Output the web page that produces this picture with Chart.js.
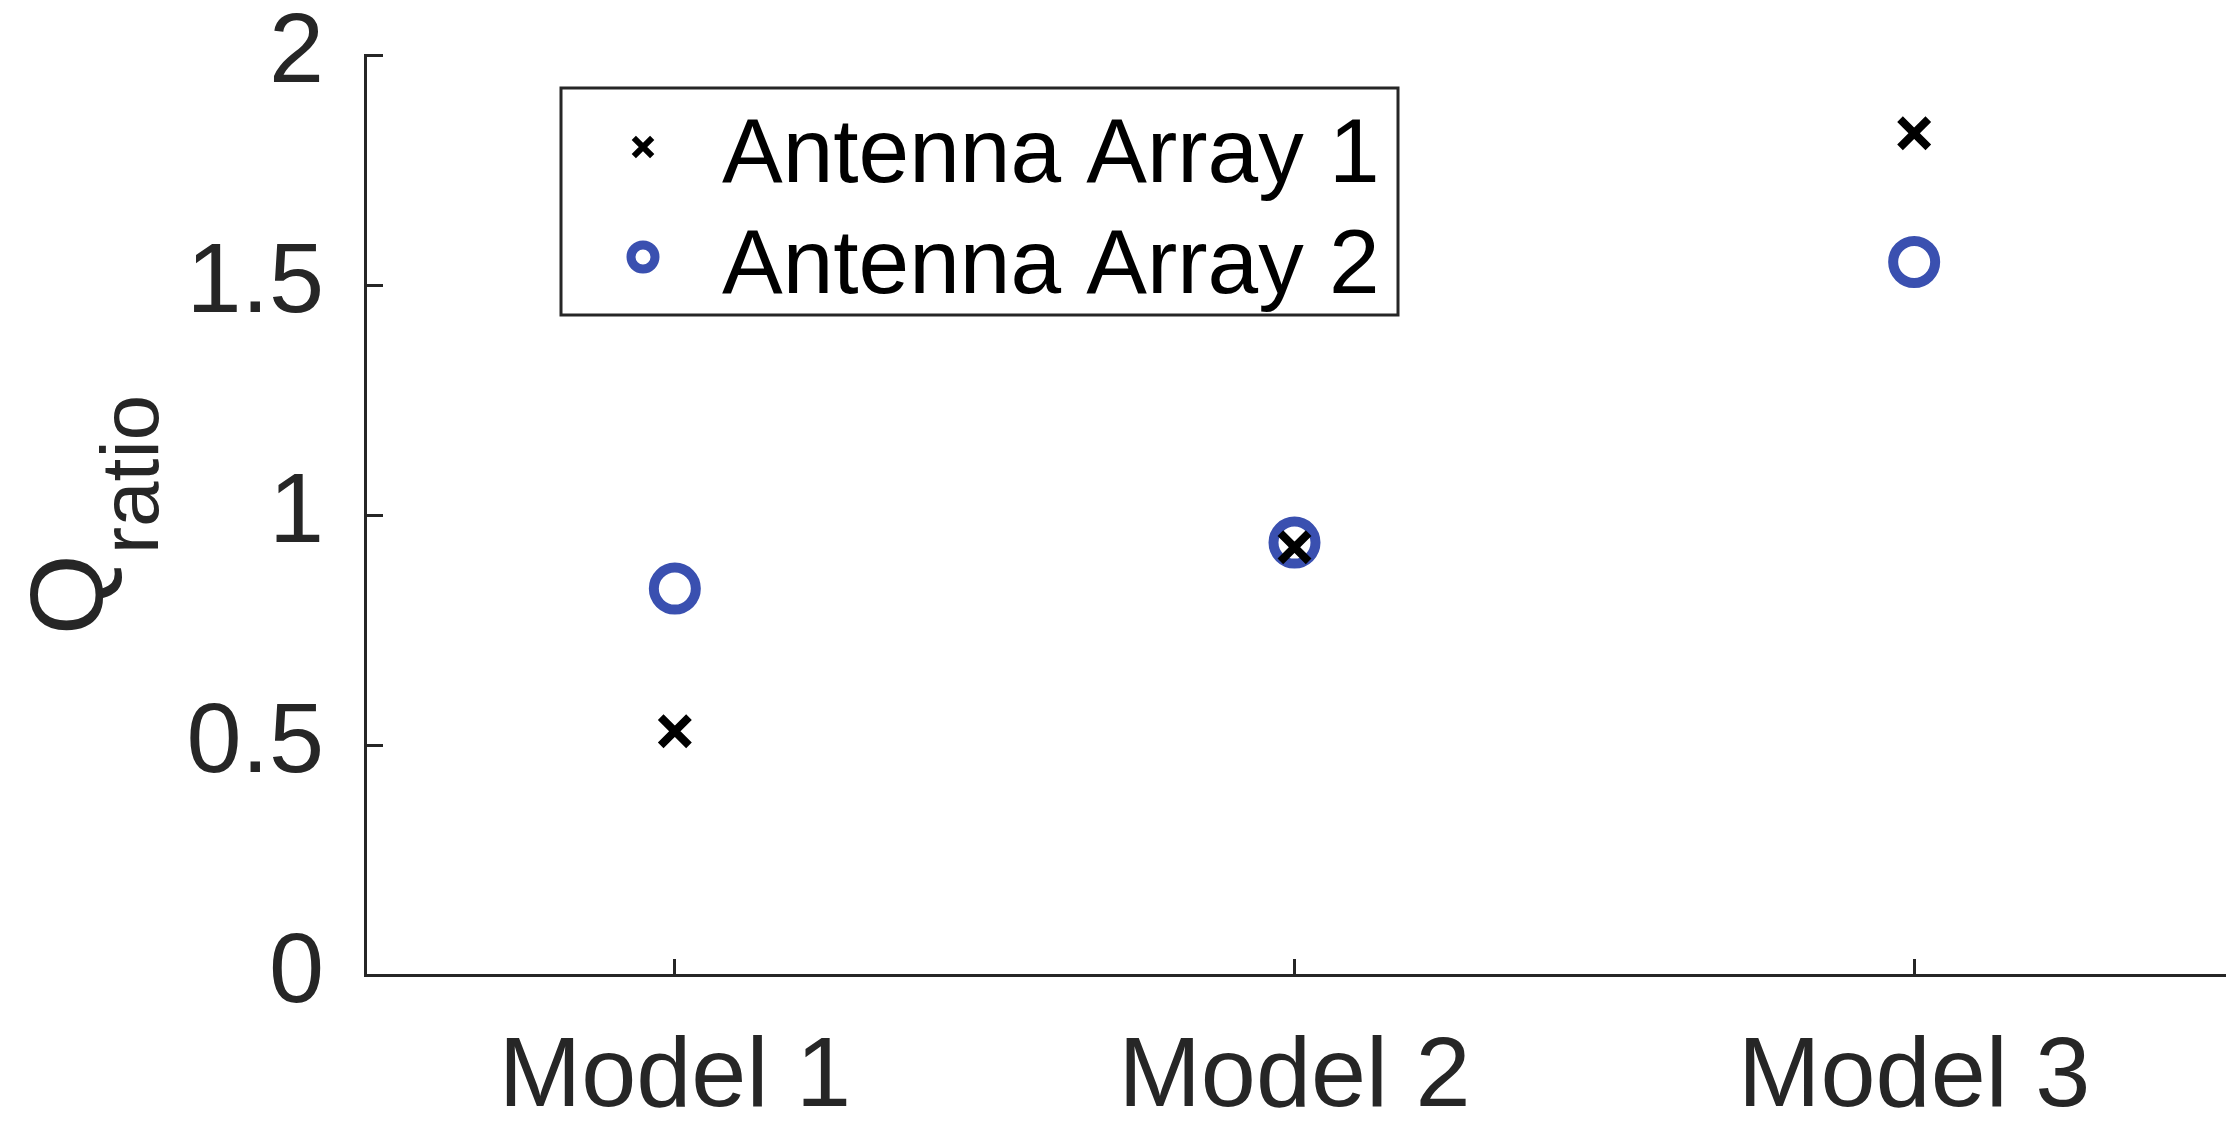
<!DOCTYPE html>
<html>
<head>
<meta charset="utf-8">
<script src="https://cdn.jsdelivr.net/npm/chart.js@4"></script>
<style>
  html, body { margin: 0; padding: 0; background: #fff; overflow: hidden; }
  #wrap { width: 2240px; height: 1131px; position: relative; }
  canvas { display: block; }
</style>
</head>
<body>
<div id="wrap"><canvas id="qChart"></canvas></div>
<script>
/* Q ratio per model, two antenna arrays */

const categories = ["Model 1", "Model 2", "Model 3"];
const array1 = [0.53, 0.93, 1.83];
const array2 = [0.84, 0.94, 1.55];
const yTicks = [0, 0.5, 1, 1.5, 2];
const seriesNames = ["Antenna Array 1", "Antenna Array 2"];

const AXIS = "#262626";
const BLUE = "#3a50b0";
const FONT = "'Liberation Sans', Arial, Helvetica, sans-serif";

const toPoints = (vals) => vals.map((v, i) => ({ x: i + 1, y: v }));

/* y label with subscript, drawn rotated */
const yLabelPlugin = {
  id: "yLabel",
  afterDraw(chart) {
    const { ctx, chartArea } = chart;
    const mid = (chartArea.top + chartArea.bottom) / 2;
    ctx.save();
    ctx.fillStyle = AXIS;
    ctx.textBaseline = "alphabetic";
    ctx.textAlign = "left";
    ctx.font = `104px ${FONT}`;
    const qW = ctx.measureText("Q").width;
    ctx.font = `82px ${FONT}`;
    const sW = ctx.measureText("ratio").width;
    const total = qW + sW;
    ctx.translate(102, mid + total / 2);
    ctx.rotate(-Math.PI / 2);
    ctx.font = `104px ${FONT}`;
    ctx.fillText("Q", 0, 0);
    ctx.font = `82px ${FONT}`;
    ctx.fillText("ratio", qW, 56);
    ctx.restore();
  }
};

/* boxed legend inside the axes */
const boxLegendPlugin = {
  id: "boxLegend",
  afterDraw(chart) {
    const { ctx } = chart;
    ctx.save();
    ctx.strokeStyle = AXIS;
    ctx.lineWidth = 3;
    ctx.strokeRect(561, 88, 837, 227);
    const rows = [147, 257];
    const base = [182, 293];
    const markers = [
      { pointStyle: "crossRot", radius: 13, borderWidth: 6 },
      { pointStyle: "circle", radius: 12, borderWidth: 9 }
    ];
    chart.data.datasets.forEach((ds, i) => {
      ctx.strokeStyle = ds.borderColor;
      ctx.fillStyle = "rgba(0,0,0,0)";
      ctx.lineWidth = markers[i].borderWidth;
      Chart.helpers.drawPoint(ctx, { ...markers[i], rotation: 0 }, 643, rows[i]);
      ctx.fillStyle = "#000";
      ctx.font = `91px ${FONT}`;
      ctx.textBaseline = "alphabetic";
      ctx.textAlign = "left";
      ctx.fillText(ds.label, 722, base[i]);
    });
    ctx.restore();
  }
};

new Chart(document.getElementById("qChart"), {
  type: "scatter",
  data: {
    datasets: [
      {
        label: seriesNames[0],
        data: toPoints(array1),
        pointStyle: "crossRot",
        pointRadius: 20,
        pointBorderWidth: 8,
        borderColor: "#000",
        backgroundColor: "#000"
      },
      {
        label: seriesNames[1],
        data: toPoints(array2),
        pointStyle: "circle",
        pointRadius: 21,
        pointBorderWidth: 10,
        borderColor: BLUE,
        backgroundColor: "rgba(0,0,0,0)"
      }
    ]
  },
  options: {
    responsive: true,
    maintainAspectRatio: false,
    animation: false,
    layout: { autoPadding: false, padding: { top: 55, right: 16, left: 0, bottom: 0 } },
    plugins: { legend: { display: false }, tooltip: { enabled: false } },
    elements: { point: { hoverRadius: 20 } },
    clip: false,
    scales: {
      x: {
        type: "linear",
        min: 0.5, max: 3.5,
        afterBuildTicks: (s) => { s.ticks = categories.map((c, i) => ({ value: i + 1 })); },
        afterFit: (s) => { s.height = 156; s.paddingLeft = 0; s.paddingRight = 0; },
        border: { display: true, color: AXIS, width: 3 },
        grid: { drawOnChartArea: false, color: AXIS, lineWidth: 3, tickLength: -16 },
        ticks: {
          color: AXIS,
          font: { family: FONT, size: 99 },
          padding: 60,
          maxRotation: 0,
          callback: (v) => categories[v - 1]
        }
      },
      y: {
        min: 0, max: 2,
        afterBuildTicks: (s) => { s.ticks = yTicks.map((v) => ({ value: v })); },
        afterFit: (s) => { s.width = 365; s.paddingTop = 0; s.paddingBottom = 0; },
        border: { display: true, color: AXIS, width: 3 },
        grid: { drawOnChartArea: false, color: AXIS, lineWidth: 3, tickLength: -18 },
        ticks: {
          color: AXIS,
          font: { family: FONT, size: 99, lineHeight: 1 },
          padding: 59,
          callback: (v) => String(v)
        }
      }
    }
  },
  plugins: [yLabelPlugin, boxLegendPlugin]
});
</script>
</body>
</html>
